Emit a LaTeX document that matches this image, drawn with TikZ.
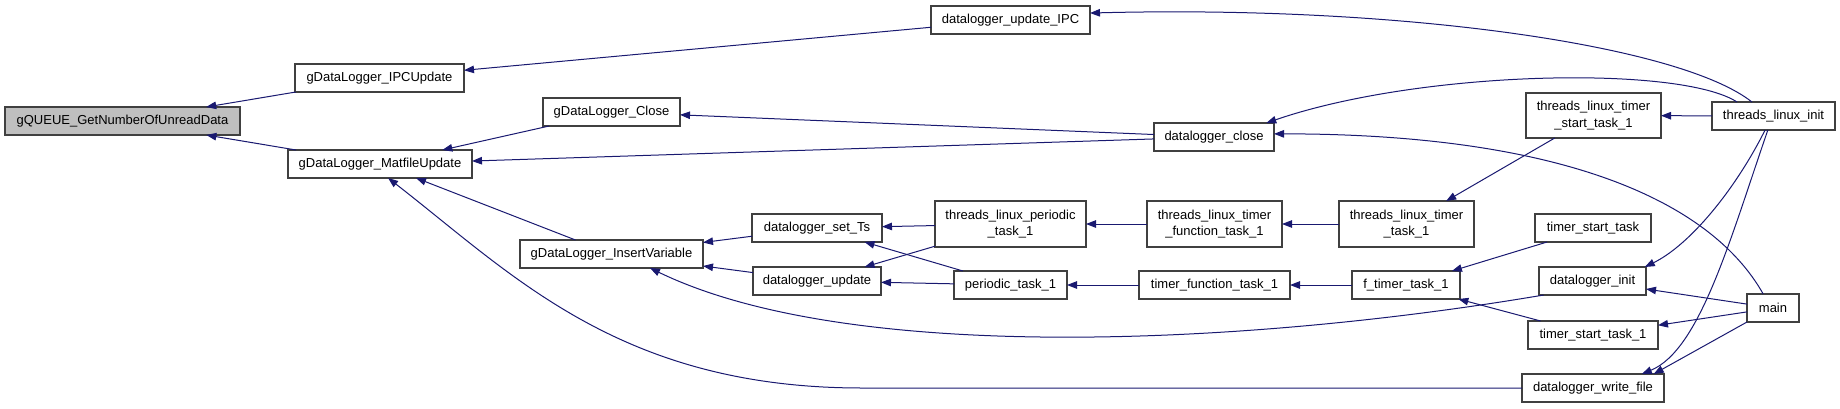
\documentclass[tikz,border=0pt]{standalone}
\usepackage{fontspec}
\setmainfont{Liberation Sans}
\usetikzlibrary{arrows.meta}
\definecolor{edgeblue}{HTML}{191970}
\definecolor{rootgray}{HTML}{BFBFBF}

\begin{document}
\begin{tikzpicture}[
  x=1pt,y=-1pt,
  >={Triangle[length=10pt,width=7.5pt]},
  fn/.style={draw=black!75,line width=1.2pt,fill=white,inner sep=0pt,outer sep=0pt,
             minimum height=28pt,font=\fontsize{13}{16.5}\selectfont,align=center},
  fntwo/.style={fn,minimum height=46pt},
  root/.style={fn,fill=rootgray},
  call/.style={->,draw=edgeblue,line width=1pt}
]
\useasboundingbox (0,0) rectangle (1840,408);

% callers, from left to right
\node[root,minimum width=235pt]  (q)       at (122.5,121)  {gQUEUE\_GetNumberOfUnreadData};
\node[fn,minimum width=169pt]    (ipcu)    at (379.5,78)   {gDataLogger\_IPCUpdate};
\node[fn,minimum width=184pt]    (mat)     at (380,164)    {gDataLogger\_MatfileUpdate};
\node[fn,minimum width=137pt]    (close)   at (611.5,112)  {gDataLogger\_Close};
\node[fn,minimum width=183pt]    (insv)    at (611.5,254)  {gDataLogger\_InsertVariable};
\node[fn,minimum width=130pt]    (setts)   at (817,228)    {datalogger\_set\_Ts};
\node[fn,minimum width=128pt]    (dlupd)   at (817,281)    {datalogger\_update};
\node[fn,minimum width=159pt]    (dlipc)   at (1010.5,20)  {datalogger\_update\_IPC};
\node[fntwo,minimum width=151pt] (tlper)   at (1010.5,224) {threads\_linux\_periodic\\\_task\_1};
\node[fn,minimum width=113pt]    (per)     at (1010.5,285) {periodic\_task\_1};
\node[fn,minimum width=120pt]    (dlclose) at (1214,137)   {datalogger\_close};
\node[fntwo,minimum width=135pt] (tltfun)  at (1214.5,224) {threads\_linux\_timer\\\_function\_task\_1};
\node[fn,minimum width=151pt]    (tfun)    at (1214.5,285) {timer\_function\_task\_1};
\node[fntwo,minimum width=135pt] (tlttask) at (1406.5,224) {threads\_linux\_timer\\\_task\_1};
\node[fn,minimum width=108pt]    (ftimer)  at (1406,285)   {f\_timer\_task\_1};
\node[fntwo,minimum width=135pt,minimum height=45pt] (tlstart) at (1593.5,115.5) {threads\_linux\_timer\\\_start\_task\_1};
\node[fn,minimum width=116pt]    (tstart)  at (1593,228)   {timer\_start\_task};
\node[fn,minimum width=107pt]    (dlinit)  at (1592.5,281) {datalogger\_init};
\node[fn,minimum width=130pt]    (tstart1) at (1593,335)   {timer\_start\_task\_1};
\node[fn,minimum width=142pt]    (dlwrite) at (1593,388)   {datalogger\_write\_file};
\node[fn,minimum width=123pt]    (tlinit)  at (1773.5,116) {threads\_linux\_init};
\node[fn,minimum width=52pt]     (main)    at (1773,308)   {main};

% calls
\draw[call] (ipcu) -- (q);
\draw[call] (mat) -- (q);
\draw[call] (dlipc) -- (ipcu);
\draw[call] (close) -- (mat);
\draw[call] (dlclose) -- (mat);
\draw[call] (insv) -- (mat);
\draw[call] (dlwrite.west) -- +(-660,0) .. controls +(-242,0) and +(125,97) .. (mat.300);
\draw[call] (dlclose) -- (close);
\draw[call] (setts) -- (insv);
\draw[call] (dlupd) -- (insv);
\draw[call] (dlinit.196) .. controls +(-295,50) and +(200,97) .. (insv.340);
\draw[call] (tlper) -- (setts);
\draw[call] (per) -- (setts);
\draw[call] (tlper) -- (dlupd);
\draw[call] (per) -- (dlupd);
\draw[call] (tltfun) -- (tlper);
\draw[call] (tlttask) -- (tltfun);
\draw[call] (tlstart) -- (tlttask);
\draw[call] (tfun) -- (per);
\draw[call] (ftimer) -- (tfun);
\draw[call] (tstart) -- (ftimer);
\draw[call] (tstart1) -- (ftimer);
\draw[call] (tlinit) -- (tlstart);
\draw[call] (tlinit.147) .. controls +(-72,-57) and +(310,-8) .. (dlipc.5);
\draw[call] (tlinit.159) .. controls +(-57,-37) and +(154,-53) .. (dlclose.15);
\draw[call] (tlinit.239) .. controls +(-30,60) and +(45,-22) .. (dlinit.15);
\draw[call] (tlinit.248) .. controls +(-38,110) and +(58,-24) .. (dlwrite.16);
\draw[call] (main.125) .. controls +(-53,-94) and +(286,0) .. (dlclose.3);
\draw[call] (main) -- (dlinit);
\draw[call] (main) -- (tstart1);
\draw[call] (main.south west) -- (dlwrite.13);
\end{tikzpicture}
\end{document}
